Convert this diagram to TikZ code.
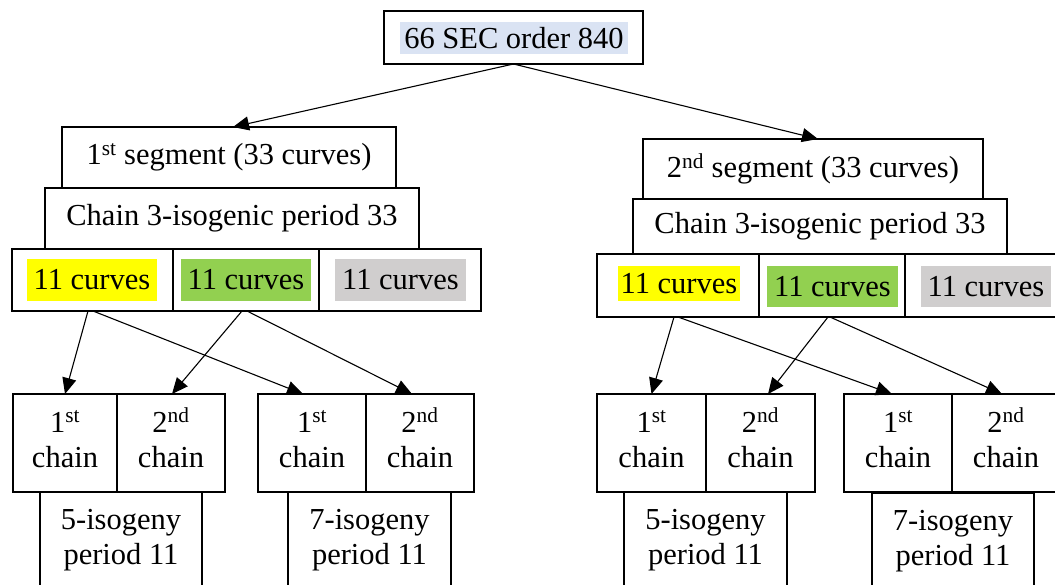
\documentclass[tikz,border=0pt]{standalone}
\usepackage{fontspec}
\setmainfont{Liberation Serif}
\usetikzlibrary{arrows.meta,calc}

\definecolor{hlblue}{HTML}{DAE3F3}
\definecolor{hlyellow}{HTML}{FFFF00}
\definecolor{hlgreen}{HTML}{92D050}
\definecolor{hlgray}{HTML}{D0CECE}

% two-line chain label with fixed line metrics, so "1st" and "2nd" sit on the same baseline
\newcommand{\chainlabel}[2]{\rule{0pt}{26pt}#1\textsuperscript{#2}\\chain\rule[-13pt]{0pt}{13pt}}

\tikzset{
  every node/.style={font=\fontsize{30.5}{35}\selectfont, inner sep=0pt, outer sep=0pt},
  box/.style={draw, line width=1.2pt},
  link/.style={line width=1.1pt, -{Triangle[length=16pt,width=14pt]}},
}

\begin{document}
\begin{tikzpicture}[x=1pt,y=-1pt]
  \useasboundingbox (0,0) rectangle (1055,585);
  \clip (0,0) rectangle (1055,585);

  % root
  \node[box, minimum width=259, minimum height=53] (root) at (513.5,37.5) {};
  \node[fill=hlblue, minimum width=228, minimum height=32] (roott) at (514,38) {66 SEC order 840};

  % ---------- first segment ----------
  \node[box, minimum width=334, minimum height=61] (seg1) at (229,157.5) {1\textsuperscript{st} segment (33 curves)};
  \node[box, minimum width=374, minimum height=61] (ch1) at (232,218.5) {Chain 3-isogenic period 33};
  \node[box, minimum width=161, minimum height=62] (r1a) at (92.5,280) {};
  \node[box, minimum width=146, minimum height=62] (r1b) at (246,280) {};
  \node[box, minimum width=162, minimum height=62] (r1c) at (400,280) {};
  \node[fill=hlyellow, minimum width=130, minimum height=42] (r1at) at (92,280) {11 curves};
  \node[fill=hlgreen, minimum width=130, minimum height=42] (r1bt) at (246,280) {11 curves};
  \node[fill=hlgray, minimum width=131, minimum height=42] (r1ct) at (400.5,280) {11 curves};

  % chains under the first segment
  \node[box, minimum width=104, minimum height=98, align=center] (c11) at (65,443) {\chainlabel{1}{st}};
  \node[box, minimum width=108, minimum height=98, align=center] (c12) at (171,443) {\chainlabel{2}{nd}};
  \node[box, minimum width=108, minimum height=98, align=center] (c13) at (312,443) {\chainlabel{1}{st}};
  \node[box, minimum width=108, minimum height=98, align=center] (c14) at (420,443) {\chainlabel{2}{nd}};
  \node[box, minimum width=162, minimum height=110] (iso11) at (121,547) {};
  \node[align=center] (iso11t) at (121,540) {5-isogeny\\period 11};
  \node[box, minimum width=163, minimum height=110] (iso12) at (369.5,547) {};
  \node[align=center] (iso12t) at (369.5,540) {7-isogeny\\period 11};

  % ---------- second segment ----------
  \node[box, minimum width=340, minimum height=60] (seg2) at (813,169) {2\textsuperscript{nd} segment (33 curves)};
  \node[box, minimum width=374, minimum height=55] (ch2) at (820,226.5) {Chain 3-isogenic period 33};
  \node[box, minimum width=162, minimum height=63] (r2a) at (678,285.5) {};
  \node[box, minimum width=146, minimum height=63] (r2b) at (832,285.5) {};
  \node[box, minimum width=162, minimum height=63] (r2c) at (986,285.5) {};
  \node[fill=hlyellow, minimum width=122, minimum height=35] (r2at) at (679,283.5) {11 curves};
  \node[fill=hlgreen, minimum width=131, minimum height=41] (r2bt) at (832.5,286.5) {11 curves};
  \node[fill=hlgray, minimum width=130, minimum height=41] (r2ct) at (986,286.5) {11 curves};

  % chains under the second segment
  \node[box, minimum width=109, minimum height=98, align=center] (c21) at (651.5,443) {\chainlabel{1}{st}};
  \node[box, minimum width=109, minimum height=98, align=center] (c22) at (760.5,443) {\chainlabel{2}{nd}};
  \node[box, minimum width=108, minimum height=98, align=center] (c23) at (898,443) {\chainlabel{1}{st}};
  \node[box, minimum width=108, minimum height=98, align=center] (c24) at (1006,443) {\chainlabel{2}{nd}};
  \node[box, minimum width=163, minimum height=110] (iso21) at (705.5,547) {};
  \node[align=center] (iso21t) at (705.5,540) {5-isogeny\\period 11};
  \node[box, minimum width=162, minimum height=110] (iso22) at (953,548) {};
  \node[align=center] (iso22t) at (953,541) {7-isogeny\\period 11};

  % ---------- connectors ----------
  \draw[link] (root.south) -- ([xshift=4pt]seg1.north);
  \draw[link] (root.south) -- ([xshift=5pt]seg2.north);

  \draw[link] ([xshift=-4.5pt]r1a.south) -- (c11.north);
  \draw[link] ([xshift=0.5pt]r1a.south) -- ([xshift=-9pt]c13.north);
  \draw[link] ([xshift=-4pt]r1b.south) -- ([xshift=1pt]c12.north);
  \draw[link] ([xshift=1pt]r1b.south) -- ([xshift=-8pt]c14.north);

  \draw[link] ([xshift=-4pt]r2a.south) -- (c21.north);
  \draw[link] ([xshift=0pt]r2a.south) -- ([xshift=-6pt]c23.north);
  \draw[link] ([xshift=-4pt]r2b.south) -- ([xshift=7.5pt]c22.north);
  \draw[link] ([xshift=-2pt]r2b.south) -- ([xshift=-4pt]c24.north);
\end{tikzpicture}
\end{document}
